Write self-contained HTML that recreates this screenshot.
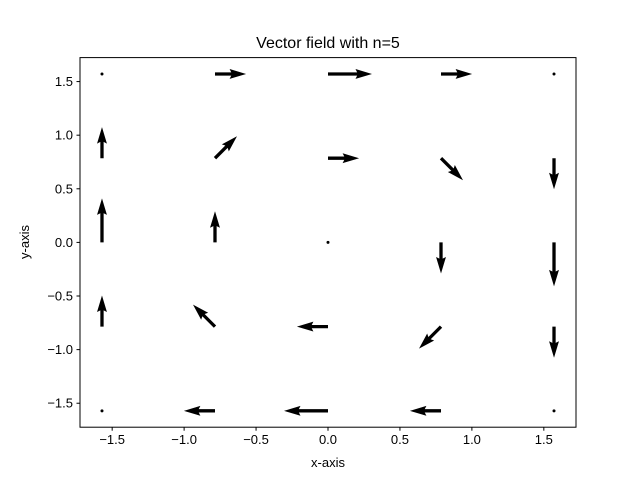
<!DOCTYPE html>
<html><head><meta charset="utf-8"><style>
body{margin:0;background:#fff}
svg text{font-family:"Liberation Sans","DejaVu Sans",sans-serif;fill:#000}
</style></head><body>
<svg id="chart" width="640" height="480">
<text x="328" y="48" font-size="16" text-anchor="middle">Vector field with n=5</text>
<g id="marks"></g>
<rect x="80" y="57.6" width="496" height="369.6" fill="none" stroke="#000" stroke-width="1"/>
<g id="ticks"></g>
<text x="328" y="467" font-size="13" text-anchor="middle">x-axis</text>
<text transform="translate(29,242) rotate(-90)" font-size="13" text-anchor="middle">y-axis</text>
</svg>
<script>
const gridVals=[-Math.PI/2,-Math.PI/4,0,Math.PI/4,Math.PI/2];
const xTicks=[-1.5,-1.0,-0.5,0.0,0.5,1.0,1.5];
const yTicks=[-1.5,-1.0,-0.5,0.0,0.5,1.0,1.5];
const xLim=[-1.7236,1.7236], yLim=[-1.7236,1.7236];
const L=80,R=576,T=57.6,B=427.2;
const sx=v=>L+(v-xLim[0])/(xLim[1]-xLim[0])*(R-L);
const sy=v=>B-(v-yLim[0])/(yLim[1]-yLim[0])*(B-T);
const NS='http://www.w3.org/2000/svg';
const marks=document.getElementById('marks'), ticks=document.getElementById('ticks');
const pxPerUnit=44, w=3.3, hw=w*3/2, hl=w*5, hal=w*4.5;
gridVals.forEach(x=>gridVals.forEach(y=>{
  const u=Math.cos(x)*Math.sin(y), v=-Math.sin(x)*Math.cos(y);
  const mag=Math.hypot(u,v); const px=sx(x), py=sy(y);
  if(mag<1e-9){
    const c=document.createElementNS(NS,'circle');
    c.setAttribute('cx',px);c.setAttribute('cy',py);c.setAttribute('r',1.5);
    
    
    marks.appendChild(c);return;
  }
  const len=mag*pxPerUnit, ang=Math.atan2(-v,u)*180/Math.PI;
  const pts=[[0,-w/2],[len-hal,-w/2],[len-hl,-hw],[len,0],[len-hl,hw],[len-hal,w/2],[0,w/2]];
  const p=document.createElementNS(NS,'polygon');
  p.setAttribute('points',pts.map(q=>q.join(',')).join(' '));
  p.setAttribute('transform',`translate(${px},${py}) rotate(${ang})`);
  
  
  marks.appendChild(p);
}));
xTicks.forEach(t=>{
  const x=sx(t);
  const l=document.createElementNS(NS,'line');
  l.setAttribute('x1',x);l.setAttribute('x2',x);l.setAttribute('y1',B);l.setAttribute('y2',B+3.5);l.setAttribute('stroke','#000');
  
  
  ticks.appendChild(l);
  const s=document.createElementNS(NS,'text');
  s.setAttribute('x',x);s.setAttribute('y',B+17);s.setAttribute('font-size','13');s.setAttribute('text-anchor','middle');
  s.textContent=(t<0?'\u2212':'')+Math.abs(t).toFixed(1);
  
  
  ticks.appendChild(s);
});
yTicks.forEach(t=>{
  const y=sy(t);
  const l=document.createElementNS(NS,'line');
  l.setAttribute('x1',L-3.5);l.setAttribute('x2',L);l.setAttribute('y1',y);l.setAttribute('y2',y);l.setAttribute('stroke','#000');
  
  
  ticks.appendChild(l);
  const s=document.createElementNS(NS,'text');
  s.setAttribute('x',L-7);s.setAttribute('y',y+4.5);s.setAttribute('font-size','13');s.setAttribute('text-anchor','end');
  s.textContent=(t<0?'\u2212':'')+Math.abs(t).toFixed(1);
  
  
  ticks.appendChild(s);
});
</script>
</body></html>
